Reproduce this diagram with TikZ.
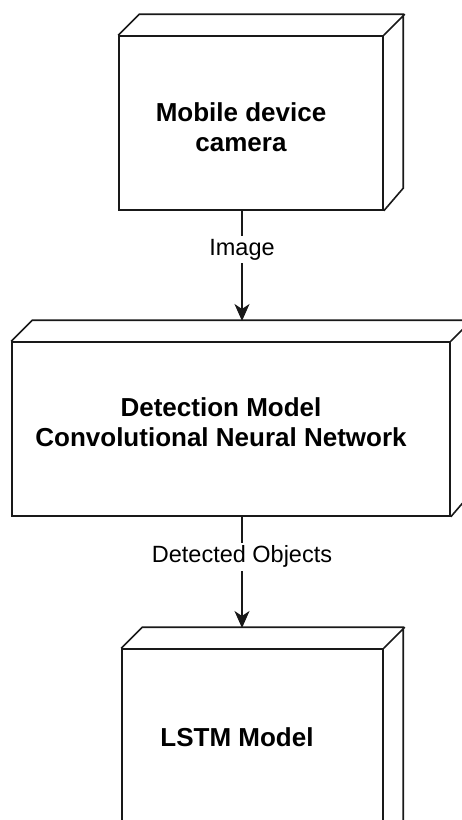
\documentclass[tikz,border=0pt]{standalone}
\usepackage{fontspec}
\setmainfont{Liberation Sans}
\usetikzlibrary{arrows.meta}
\begin{document}
\begin{tikzpicture}[x=1pt,y=-1pt,
  face/.style={draw=black!90, line width=1.6pt, fill=white, inner sep=0pt, rectangle},
  depth/.style={draw=black!90, line width=1.6pt, line join=miter},
  boxtext/.style={font=\fontsize{26}{30}\selectfont\bfseries, align=center, inner sep=0pt},
  edgelabel/.style={font=\fontsize{23.5}{28}\selectfont, fill=white, inner sep=3pt},
  conn/.style={draw=black!90, line width=1.6pt, -{Stealth[length=17pt,width=15pt,inset=5pt]}}]
\useasboundingbox (0,0) rectangle (462,820);
\clip (0,0) rectangle (462,820);
\fill[white] (0,0) rectangle (462,820);

% Box 1
\node[face, minimum width=264pt, minimum height=174pt] (b1) at (251,123) {};
\draw[depth] (b1.north west) -- ++(21,-21) -- ++(264,0) -- ++(0,174) -- (b1.south east)
  (b1.north east) -- ++(21,-21);
\node[boxtext] (t1) at (241,127) {Mobile device\\camera};

% Box 2
\node[face, minimum width=438pt, minimum height=174pt] (b2) at (231,429) {};
\draw[depth] (b2.north west) -- ++(21,-21) -- ++(438,0) -- ++(0,174) -- (b2.south east)
  (b2.north east) -- ++(21,-21);
\node[boxtext] (t2) at (221,422) {Detection Model\\Convolutional Neural Network};

% Box 3
\node[face, minimum width=261pt, minimum height=200pt] (b3) at (252.5,749) {};
\draw[depth] (b3.north west) -- ++(21,-21) -- ++(261,0) -- ++(0,200) -- (b3.south east)
  (b3.north east) -- ++(21,-21);
\node[boxtext] (t3) at (237,737) {LSTM Model};

% connectors
\coordinate (in2) at (242,321);
\coordinate (in3) at (242,628);
\draw[conn] (b1.south -| in2) -- node[edgelabel, pos=0.35] (l1) {Image} (in2);
\draw[conn] (b2.south -| in3) -- node[edgelabel, pos=0.36] (l2) {Detected Objects} (in3);
\end{tikzpicture}
\end{document}
